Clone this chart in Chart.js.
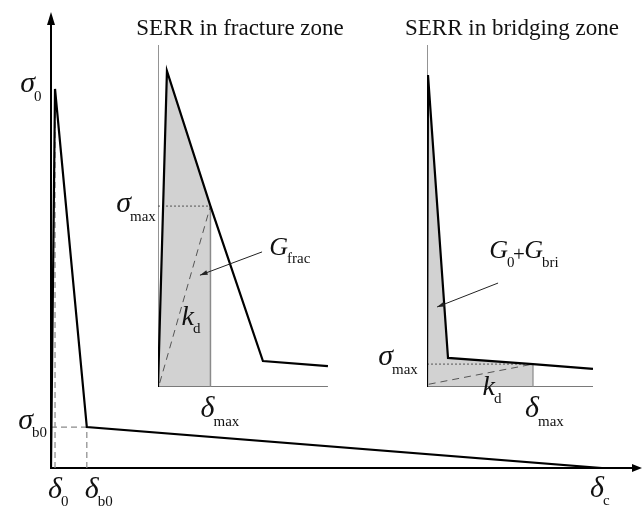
<!DOCTYPE html>
<html>
<head>
<meta charset="utf-8">
<script src="https://cdn.jsdelivr.net/npm/chart.js@4.4.0/dist/chart.umd.min.js"></script>
<style>
    html, body { margin: 0; padding: 0; background: #fff; }
    #wrap { position: relative; width: 643px; height: 507px; }
    #wrap canvas { position: absolute; left: 0; top: 0; }
</style>
</head>
<body>
<div id="wrap">
    <canvas id="mainChart" width="643" height="507"></canvas>
    <canvas id="fracChart" width="643" height="507"></canvas>
    <canvas id="bridgeChart" width="643" height="507"></canvas>
</div>
<script>
// main traction-separation law, normalised (delta_c = 1, sigma_0 = 1)
const mainDelta = [0, 0.0073, 0.065, 1];
const mainSigma = [0, 1, 0.108, 0];
const mainRange = { x: 1.0726, y: 1.203 };

// SERR in fracture zone (inset, normalised to its own axes)
const fracDelta = [0, 0.052, 0.305, 0.61, 0.988];
const fracSigma = [0, 0.924, 0.529, 0.076, 0.061];
const fracMaxIdx = 2;

// SERR in bridging zone
const briDelta = [0, 0.006, 0.125, 0.631, 0.988];
const briSigma = [0, 0.912, 0.085, 0.067, 0.053];
const briMaxIdx = 3;

const SERIF = '"Liberation Serif", "Times New Roman", serif';

const zip = (xs, ys) => xs.map((x, i) => ({ x: x, y: ys[i] }));

function lineSet(data, color, width, dash, order) {
    return {
        data: data,
        borderColor: color,
        borderWidth: width,
        borderDash: dash || [],
        pointRadius: 0,
        tension: 0,
        fill: false,
        order: order
    };
}

// italic symbol ending at subX, upright subscript starting at subX
function sym(ctx, main, sub, subX, y, subY, size) {
    ctx.fillStyle = '#111';
    ctx.textBaseline = 'alphabetic';
    ctx.textAlign = 'right';
    ctx.font = 'italic ' + (size || 30) + 'px ' + SERIF;
    ctx.fillText(main, subX + 1, y);
    ctx.textAlign = 'left';
    ctx.font = '15px ' + SERIF;
    ctx.fillText(sub, subX, subY);
}

function pointer(ctx, x1, y1, x2, y2) {
    ctx.save();
    ctx.strokeStyle = '#222';
    ctx.fillStyle = '#222';
    ctx.lineWidth = 1;
    ctx.beginPath();
    ctx.moveTo(x1, y1);
    ctx.lineTo(x2, y2);
    ctx.stroke();
    const a = Math.atan2(y2 - y1, x2 - x1);
    ctx.beginPath();
    ctx.moveTo(x2, y2);
    ctx.lineTo(x2 - 8 * Math.cos(a - 0.3), y2 - 8 * Math.sin(a - 0.3));
    ctx.lineTo(x2 - 8 * Math.cos(a + 0.3), y2 - 8 * Math.sin(a + 0.3));
    ctx.closePath();
    ctx.fill();
    ctx.restore();
}

function baseOptions(padding, xMax, yMax) {
    return {
        responsive: false,
        animation: false,
        events: [],
        layout: { padding: padding },
        plugins: { legend: { display: false }, tooltip: { enabled: false } },
        scales: {
            x: { type: 'linear', display: false, min: 0, max: xMax },
            y: { type: 'linear', display: false, min: 0, max: yMax }
        }
    };
}

// ---------- main chart ----------
new Chart(document.getElementById('mainChart'), {
    type: 'line',
    data: {
        datasets: [
            lineSet(zip(mainDelta, mainSigma), '#000', 2.2, null, 0),
            lineSet([{ x: mainDelta[1], y: 0 }, { x: mainDelta[1], y: mainSigma[1] }], '#8a8a8a', 1.2, [6, 4], 1),
            lineSet([{ x: 0, y: mainSigma[2] }, { x: mainDelta[2], y: mainSigma[2] }], '#8a8a8a', 1.2, [6, 4], 1),
            lineSet([{ x: mainDelta[2], y: 0 }, { x: mainDelta[2], y: mainSigma[2] }], '#8a8a8a', 1.2, [6, 4], 1)
        ]
    },
    options: baseOptions({ left: 51, right: 1, top: 12, bottom: 39 }, mainRange.x, mainRange.y),
    plugins: [{
        id: 'mainAxes',
        beforeDatasetsDraw: chart => {
            const ctx = chart.ctx;
            const a = chart.chartArea;
            ctx.save();
            ctx.strokeStyle = '#000';
            ctx.fillStyle = '#000';
            ctx.lineWidth = 2;
            ctx.beginPath();
            ctx.moveTo(a.left, a.top + 6);
            ctx.lineTo(a.left, a.bottom);
            ctx.lineTo(a.right - 6, a.bottom);
            ctx.stroke();
            // arrow heads
            ctx.beginPath();
            ctx.moveTo(a.left, a.top);
            ctx.lineTo(a.left - 4, a.top + 13);
            ctx.lineTo(a.left + 4, a.top + 13);
            ctx.closePath();
            ctx.fill();
            ctx.beginPath();
            ctx.moveTo(a.right, a.bottom);
            ctx.lineTo(a.right - 10, a.bottom - 4);
            ctx.lineTo(a.right - 10, a.bottom + 4);
            ctx.closePath();
            ctx.fill();
            ctx.restore();
        },
        afterDraw: chart => {
            const ctx = chart.ctx;
            const xs = chart.scales.x, ys = chart.scales.y;
            const yS0 = ys.getPixelForValue(mainSigma[1]);
            const yB0 = ys.getPixelForValue(mainSigma[2]);
            const y0 = ys.getPixelForValue(0);
            sym(ctx, 'σ', '0', 34, yS0 + 3, yS0 + 12);
            sym(ctx, 'σ', 'b0', 32, yB0 + 2, yB0 + 10);
            const x0 = xs.getPixelForValue(mainDelta[1]);
            const xb = xs.getPixelForValue(mainDelta[2]);
            const xc = xs.getPixelForValue(mainDelta[3]);
            sym(ctx, 'δ', '0', x0 + 6, y0 + 30, y0 + 38);
            sym(ctx, 'δ', 'b0', xb + 11, y0 + 30, y0 + 38);
            sym(ctx, 'δ', 'c', xc + 1, y0 + 29, y0 + 37);
        }
    }]
});

// ---------- inset: fracture zone ----------
const fracShade = zip(fracDelta.slice(0, fracMaxIdx + 1), fracSigma.slice(0, fracMaxIdx + 1))
    .concat([{ x: fracDelta[fracMaxIdx], y: 0 }]);
const fracDmax = fracDelta[fracMaxIdx], fracSmax = fracSigma[fracMaxIdx];

new Chart(document.getElementById('fracChart'), {
    type: 'line',
    data: {
        datasets: [
            lineSet(zip(fracDelta, fracSigma), '#000', 2.2, null, 0),
            lineSet([{ x: 0.01, y: 0.012 }, { x: fracDmax, y: fracSmax }], '#555', 1, [7, 5], 1),
            lineSet([{ x: 0, y: fracSmax }, { x: fracDmax, y: fracSmax }], '#555', 1, [2, 2], 1),
            lineSet([{ x: fracDmax, y: 0 }, { x: fracDmax, y: fracSmax }], '#8a8a8a', 1.5, null, 2),
            lineSet([{ x: 0, y: 0 }, { x: 0, y: 1.006 }], '#707070', 1.5, null, 3),
            lineSet([{ x: 0, y: 0 }, { x: 0.988, y: 0 }], '#7a7a7a', 2, null, 3),
            Object.assign(lineSet(fracShade, 'rgba(0,0,0,0)', 0, null, 5),
                { fill: 'origin', backgroundColor: '#d2d2d2' })
        ]
    },
    options: baseOptions({ left: 158, right: 313, top: 45, bottom: 120 }, 1, 1),
    plugins: [{
        id: 'fracLabels',
        afterDraw: chart => {
            const ctx = chart.ctx;
            const xs = chart.scales.x, ys = chart.scales.y;
            ctx.save();
            ctx.fillStyle = '#111';
            ctx.font = '23px ' + SERIF;
            ctx.textAlign = 'center';
            ctx.fillText('SERR in fracture zone', 240, 35);
            const ym = ys.getPixelForValue(fracSmax);
            const xm = xs.getPixelForValue(fracDmax);
            sym(ctx, 'σ', 'max', 130, ym + 6, ym + 15);
            sym(ctx, 'δ', 'max', xm + 3, 417, 426);
            sym(ctx, 'k', 'd', 193, 325, 333, 28);
            sym(ctx, 'G', 'frac', 287, 255, 263, 26);
            pointer(ctx, xs.getPixelForValue(0.605), ys.getPixelForValue(0.395),
                xs.getPixelForValue(0.244), ys.getPixelForValue(0.327));
            ctx.restore();
        }
    }]
});

// ---------- inset: bridging zone ----------
const briShade = zip(briDelta.slice(0, briMaxIdx + 1), briSigma.slice(0, briMaxIdx + 1))
    .concat([{ x: briDelta[briMaxIdx], y: 0 }]);
const briDmax = briDelta[briMaxIdx], briSmax = briSigma[briMaxIdx];

new Chart(document.getElementById('bridgeChart'), {
    type: 'line',
    data: {
        datasets: [
            lineSet(zip(briDelta, briSigma), '#000', 2.2, null, 0),
            lineSet([{ x: 0.01, y: 0.008 }, { x: briDmax, y: briSmax }], '#555', 1, [7, 5], 1),
            lineSet([{ x: 0, y: briSmax }, { x: briDmax, y: briSmax }], '#555', 1, [2, 2], 1),
            lineSet([{ x: briDmax, y: 0 }, { x: briDmax, y: briSmax }], '#8a8a8a', 1.2, null, 2),
            lineSet([{ x: 0, y: 0 }, { x: 0, y: 1.006 }], '#707070', 1.5, null, 3),
            lineSet([{ x: 0, y: 0 }, { x: 0.988, y: 0 }], '#7a7a7a', 2, null, 3),
            Object.assign(lineSet(briShade, 'rgba(0,0,0,0)', 0, null, 5),
                { fill: 'origin', backgroundColor: '#d2d2d2' })
        ]
    },
    options: baseOptions({ left: 427, right: 48, top: 45, bottom: 120 }, 1, 1),
    plugins: [{
        id: 'briLabels',
        afterDraw: chart => {
            const ctx = chart.ctx;
            const xs = chart.scales.x, ys = chart.scales.y;
            ctx.save();
            ctx.fillStyle = '#111';
            ctx.font = '23px ' + SERIF;
            ctx.textAlign = 'center';
            ctx.fillText('SERR in bridging zone', 512, 35);
            const ym = ys.getPixelForValue(briSmax);
            const xm = xs.getPixelForValue(briDmax);
            sym(ctx, 'σ', 'max', 392, ym + 1, ym + 10);
            sym(ctx, 'δ', 'max', xm + 5, 417, 426);
            sym(ctx, 'k', 'd', 494, 395, 403, 28);
            sym(ctx, 'G', '0', 507, 258, 267, 26);
            ctx.textAlign = 'left';
            ctx.font = '21px ' + SERIF;
            ctx.fillText('+', 513, 261);
            sym(ctx, 'G', 'bri', 542, 258, 267, 26);
            pointer(ctx, xs.getPixelForValue(0.423), ys.getPixelForValue(0.304),
                xs.getPixelForValue(0.06), ys.getPixelForValue(0.234));
            ctx.restore();
        }
    }]
});
</script>
</body>
</html>
